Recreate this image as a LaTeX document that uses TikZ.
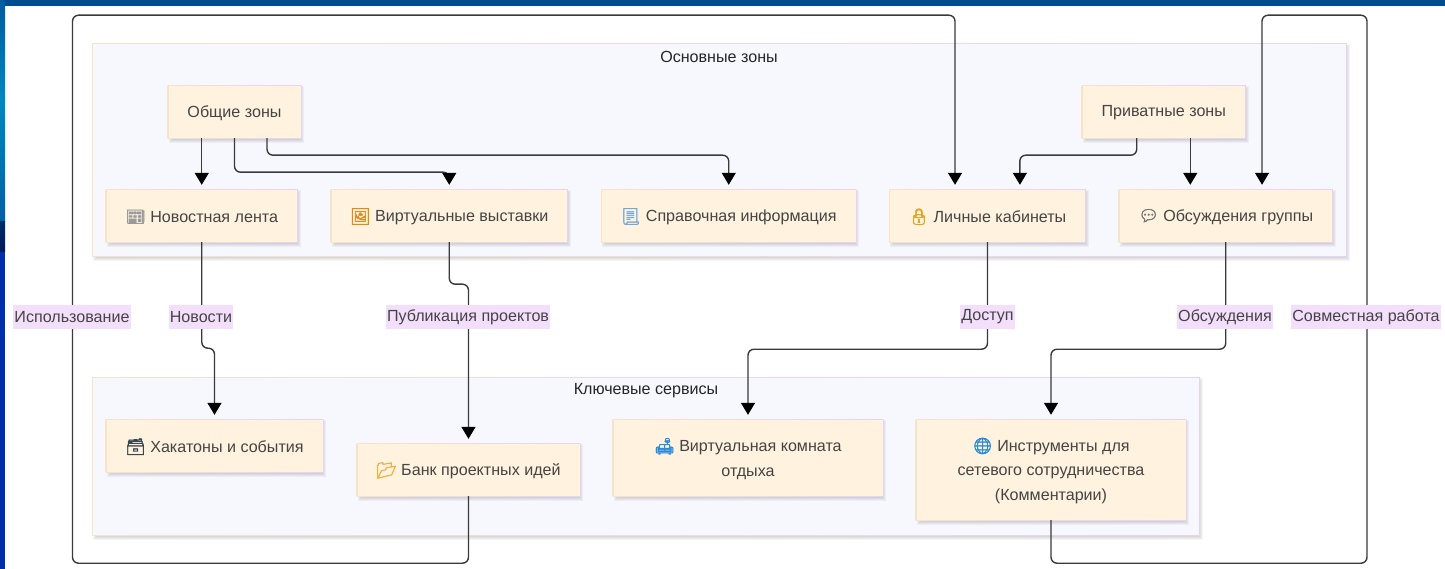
\documentclass[tikz,border=0pt]{standalone}
\usepackage{fontspec}
\setmainfont{Liberation Sans}
\newfontfamily\emo[FakeBold=2.2]{Noto Emoji}
\usetikzlibrary{arrows.meta,backgrounds}
\definecolor{cream}{HTML}{FFF3DF}
\definecolor{lilacb}{HTML}{E6D3F4}
\definecolor{tanb}{HTML}{F5E3CC}
\definecolor{clusterbg}{HTML}{F7F8FE}
\definecolor{labbg}{HTML}{F3DFFC}
\definecolor{ink}{HTML}{444444}
\definecolor{wire}{HTML}{3A3A3A}
\tikzset{
  x=1pt,y=-1pt,
  boxshape/.style={inner sep=0pt,fill=cream},
  boxtext/.style={inner sep=0pt,text=ink,align=center,font=\fontsize{16.1}{24.5}\selectfont},
  clustertitle/.style={inner sep=0pt,text=black!85,font=\fontsize{16.1}{20}\selectfont},
  edgelabel/.style={inner xsep=1pt,inner ysep=0pt,fill=labbg,text=ink,minimum height=24.5pt,font=\fontsize{16.1}{20}\selectfont},
  wirepath/.style={draw=wire,line width=1.4pt,rounded corners=6pt},
  arrowed/.style={wirepath,-{Triangle[width=14pt,length=12pt,color=black]},shorten >=5pt},
}
\newcommand{\softshadow}[4]{%
  \foreach \s in {0,1,2,3}{\fill[black,opacity=.04] (#1+\s,#2+\s) rectangle (#3+3.5-\s,#4+5-\s);}}
\newcommand{\gradframe}[4]{%
  \shade[left color=tanb,right color=lilacb] (#1-.8,#2-.8) rectangle (#3+.8,#4+.8);}
\newcommand{\zbox}[6]{%
  \softshadow{#2}{#3}{#4}{#5}
  \gradframe{#2}{#3}{#4}{#5}
  \node[boxshape,minimum width={#4-#2},minimum height={#5-#3}] (#1) at ({(#2+#4)/2},{(#3+#5)/2}) {};
  \node[boxtext] (#1text) at ([yshift=-.8pt]#1.center) {#6};}
\newcommand{\zcluster}[4]{%
  \softshadow{#1}{#2}{#3}{#4}
  \gradframe{#1}{#2}{#3}{#4}
  \fill[clusterbg] (#1,#2) rectangle (#3,#4);}
\newcommand{\ic}[2]{{\emo\textcolor[HTML]{#1}{#2}}}
\begin{document}
\begin{tikzpicture}
\useasboundingbox (0,0) rectangle (1445,569);
% window backdrop
\fill[white] (0,0) rectangle (1445,569);
\fill[color={rgb,255:red,0;green,74;blue,142}] (0,0) rectangle (1445,6);
\shade[top color={rgb,255:red,0;green,90;blue,160},bottom color={rgb,255:red,0;green,136;blue,192}] (0,0) rectangle (5,100);
\shade[top color={rgb,255:red,0;green,136;blue,192},bottom color={rgb,255:red,0;green,95;blue,165}] (0,100) rectangle (5,222);
\shade[top color={rgb,255:red,0;green,45;blue,105},bottom color={rgb,255:red,0;green,25;blue,90}] (0,222) rectangle (5,252);
\fill[color={rgb,255:red,0;green,48;blue,168}] (0,252) rectangle (5,569);

\zcluster{93}{44}{1346}{256}
\zcluster{93}{378}{1199}{535}
\node[clustertitle] (tmain) at (719,56.7) {Основные зоны};
\node[clustertitle] (tserv) at (646,391) {Ключевые сервисы};

\zbox{pub}{168.5}{86}{300.5}{138}{Общие зоны}
\zbox{prv}{1082.5}{86}{1245}{138}{Приватные зоны}
\zbox{news}{106.5}{190}{297}{242}{\ic{9A9A9A}{📰} Новостная лента}
\zbox{expo}{331.5}{190}{567}{242}{\ic{E08A1E}{🖼} Виртуальные выставки}
\zbox{info}{602}{190}{855.5}{242}{\ic{6FA8D8}{📃} Справочная информация}
\zbox{cab}{890}{190}{1085}{242}{\ic{E0A526}{🔒} Личные кабинеты}
\zbox{disc}{1119.5}{190}{1332}{242}{\ic{777777}{💬} Обсуждения группы}
\zbox{hack}{106.5}{420}{322.5}{472}{\ic{37474F}{🗃} Хакатоны и события}
\zbox{bank}{357.5}{444}{579.5}{496}{\ic{F0B040}{📂} Банк проектных идей}
\zbox{room}{613.5}{420}{882.5}{496}{\ic{2C8AD8}{🛋} Виртуальная комната\\отдыха}
\zbox{tools}{916.5}{420}{1185.5}{520}{\ic{2C8AD8}{🌐} Инструменты для\\сетевого сотрудничества\\(Комментарии)}

% connectors
\draw[arrowed] ([xshift=-32.75pt]pub.south) -- (news.north);
\draw[arrowed] (pub.south) -- ++(0,34) -- ++(214.75,0) -- (expo.north);
\draw[arrowed] ([xshift=32.5pt]pub.south) -- ++(0,17) -- ++(461.75,0) -- (info.north);
\draw[arrowed] ([xshift=-27pt]prv.south) -- ++(0,17) -- ++(-117,0) -- ([xshift=32.5pt]cab.north);
\draw[arrowed] ([xshift=26.5pt]prv.south) -- ([xshift=-35.5pt]disc.north);
\draw[arrowed] (news.south) -- ++(0,106) -- ++(12.75,0) -- (hack.north);
\draw[arrowed] (expo.south) -- ++(0,42) -- ++(19.25,0) -- (bank.north);
\draw[arrowed] (cab.south) -- ++(0,107) -- ++(-239.5,0) -- (room.north);
\draw[arrowed] (disc.south) -- ++(0,107) -- ++(-174.75,0) -- (tools.north);
\draw[arrowed] (bank.south) -- ++(0,67) -- ++(-396,0) -- ++(0,-548) -- ++(882.5,0) -- ([xshift=-32.5pt]cab.north);
\draw[arrowed] (tools.south) -- ++(0,43) -- ++(316,0) -- ++(0,-548) -- ++(-105,0) -- ([xshift=36.25pt]disc.north);

% connector labels
\node[edgelabel] (lUse) at (72,317) {Использование};
\node[edgelabel] (lNews) at (201,317) {Новости};
\node[edgelabel] (lPub) at (468,317) {Публикация проектов};
\node[edgelabel] (lAcc) at (987.5,317) {Доступ};
\node[edgelabel] (lDisc) at (1225,317) {Обсуждения};
\node[edgelabel] (lWork) at (1366,317) {Совместная работа};
\end{tikzpicture}
\end{document}
